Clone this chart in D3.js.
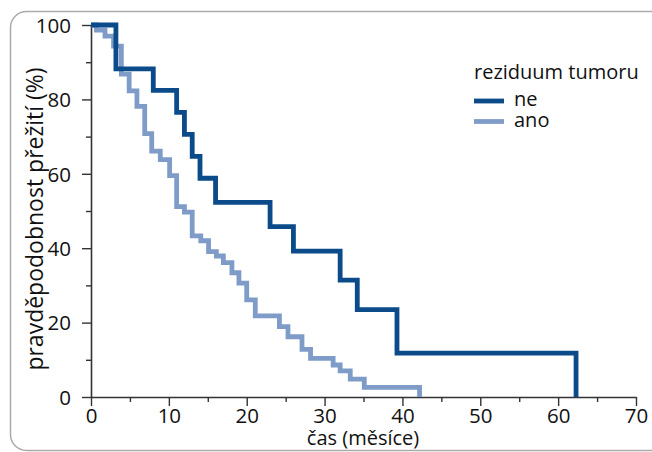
<!DOCTYPE html>
<html>
<head>
<meta charset="utf-8">
<script src="https://cdn.jsdelivr.net/npm/d3@7"></script>
<style>
  body { margin: 0; background: #fff; }
  svg { display: block; }
  text { font-family: "Open Sans", sans-serif; fill: #111; }
</style>
</head>
<body>
<svg width="652" height="452"></svg>
<script>
// survival data (months, %)
var neTime  = [0, 3.2, 8.0, 11.0, 12.0, 13.0, 14.0, 16.0, 23.0, 26.0, 32.0, 34.2, 39.3, 62.3];
var neSurv  = [100, 88.2, 82.4, 76.5, 70.6, 64.7, 58.8, 52.3, 45.8, 39.2, 31.4, 23.5, 11.8, 0];
var anoTime = [0, 0.7, 1.8, 2.9, 3.9, 4.9, 5.9, 6.9, 7.8, 8.9, 10.1, 11.0, 12.0, 13.0, 14.1, 15.1, 16.1, 17.0, 18.1, 19.0, 20.0, 21.1, 24.2, 25.3, 27.1, 28.2, 31.1, 32.0, 33.3, 35.1, 42.2];
var anoSurv = [100, 98.6, 97.0, 94.3, 86.8, 82.3, 78.1, 70.8, 66.1, 63.8, 59.5, 51.2, 49.7, 43.3, 42.0, 39.1, 37.9, 36.1, 33.4, 30.6, 26.1, 21.8, 18.9, 16.2, 12.8, 10.4, 8.6, 7.0, 4.8, 2.6, 0];

var xTicks = [0, 10, 20, 30, 40, 50, 60, 70];
var xMinor = [5, 15, 25, 35, 45, 55, 65];
var yTicks = [0, 20, 40, 60, 80, 100];
var yMinor = [10, 30, 50, 70, 90];

var seriesNames = ["ne", "ano"];
var colors = ["#0b4b8a", "#7f9cc8"];

var svg = d3.select("svg");

// rounded frame
svg.append("rect")
  .attr("x", 10.5).attr("y", 11.5)
  .attr("width", 700).attr("height", 439)
  .attr("rx", 16)
  .attr("fill", "none")
  .attr("stroke", "#aaa")
  .attr("stroke-width", 1.5);

var x = d3.scaleLinear().domain([0, 70]).range([91, 636]);
var y = d3.scaleLinear().domain([0, 100]).range([397, 25]);

var g = svg.append("g");

// axes
var xAxis = g.append("g")
  .attr("transform", "translate(0,397)")
  .call(d3.axisBottom(x).tickValues(xTicks).tickSize(9).tickPadding(2).tickSizeOuter(0));
g.append("g")
  .attr("transform", "translate(0,397)")
  .call(d3.axisBottom(x).tickValues(xMinor).tickSize(5).tickFormat("").tickSizeOuter(0))
  .select(".domain").remove();

var yAxis = g.append("g")
  .attr("transform", "translate(91,0)")
  .call(d3.axisLeft(y).tickValues(yTicks).tickSize(9).tickPadding(11).tickSizeOuter(0));
g.append("g")
  .attr("transform", "translate(91,0)")
  .call(d3.axisLeft(y).tickValues(yMinor).tickSize(5).tickFormat("").tickSizeOuter(0))
  .select(".domain").remove();

g.selectAll(".domain").attr("stroke", "#333").attr("stroke-width", 1.6);
g.selectAll(".tick line").attr("stroke", "#333").attr("stroke-width", 1.4);
g.selectAll(".tick text").attr("font-size", 20.5).attr("fill", "#111")
  .style("font-family", "'Open Sans', sans-serif");
yAxis.selectAll(".tick text").attr("dy", "0.36em");

// axis titles
svg.append("text")
  .attr("x", 363).attr("y", 445)
  .attr("text-anchor", "middle")
  .attr("font-size", 20)
  .text("čas (měsíce)");

svg.append("text")
  .attr("transform", "translate(43,219) rotate(-90)")
  .attr("text-anchor", "middle")
  .attr("font-size", 23)
  .text("pravděpodobnost přežití (%)");

// curves
var line = d3.line()
  .x(function(d) { return x(d[0]); })
  .y(function(d) { return y(d[1]); })
  .curve(d3.curveStepAfter);

var anoData = anoTime.map(function(t, i) { return [t, anoSurv[i]]; });
var neData = neTime.map(function(t, i) { return [t, neSurv[i]]; });

g.append("path")
  .datum(anoData)
  .attr("d", line)
  .attr("fill", "none")
  .attr("stroke", colors[1])
  .attr("stroke-width", 4.8);

g.append("path")
  .datum(neData)
  .attr("d", line)
  .attr("fill", "none")
  .attr("stroke", colors[0])
  .attr("stroke-width", 4.8);

// legend
var legend = svg.append("g");
legend.append("text")
  .attr("x", 474).attr("y", 79)
  .attr("font-size", 20)
  .text("reziduum tumoru");

seriesNames.forEach(function(name, i) {
  var ly = 101 + i * 20.5;
  legend.append("line")
    .attr("x1", 474).attr("x2", 504)
    .attr("y1", ly).attr("y2", ly)
    .attr("stroke", colors[i])
    .attr("stroke-width", 4.8);
  legend.append("text")
    .attr("x", 514).attr("y", ly + 5)
    .attr("font-size", 20)
    .text(name);
});
</script>
</body>
</html>
